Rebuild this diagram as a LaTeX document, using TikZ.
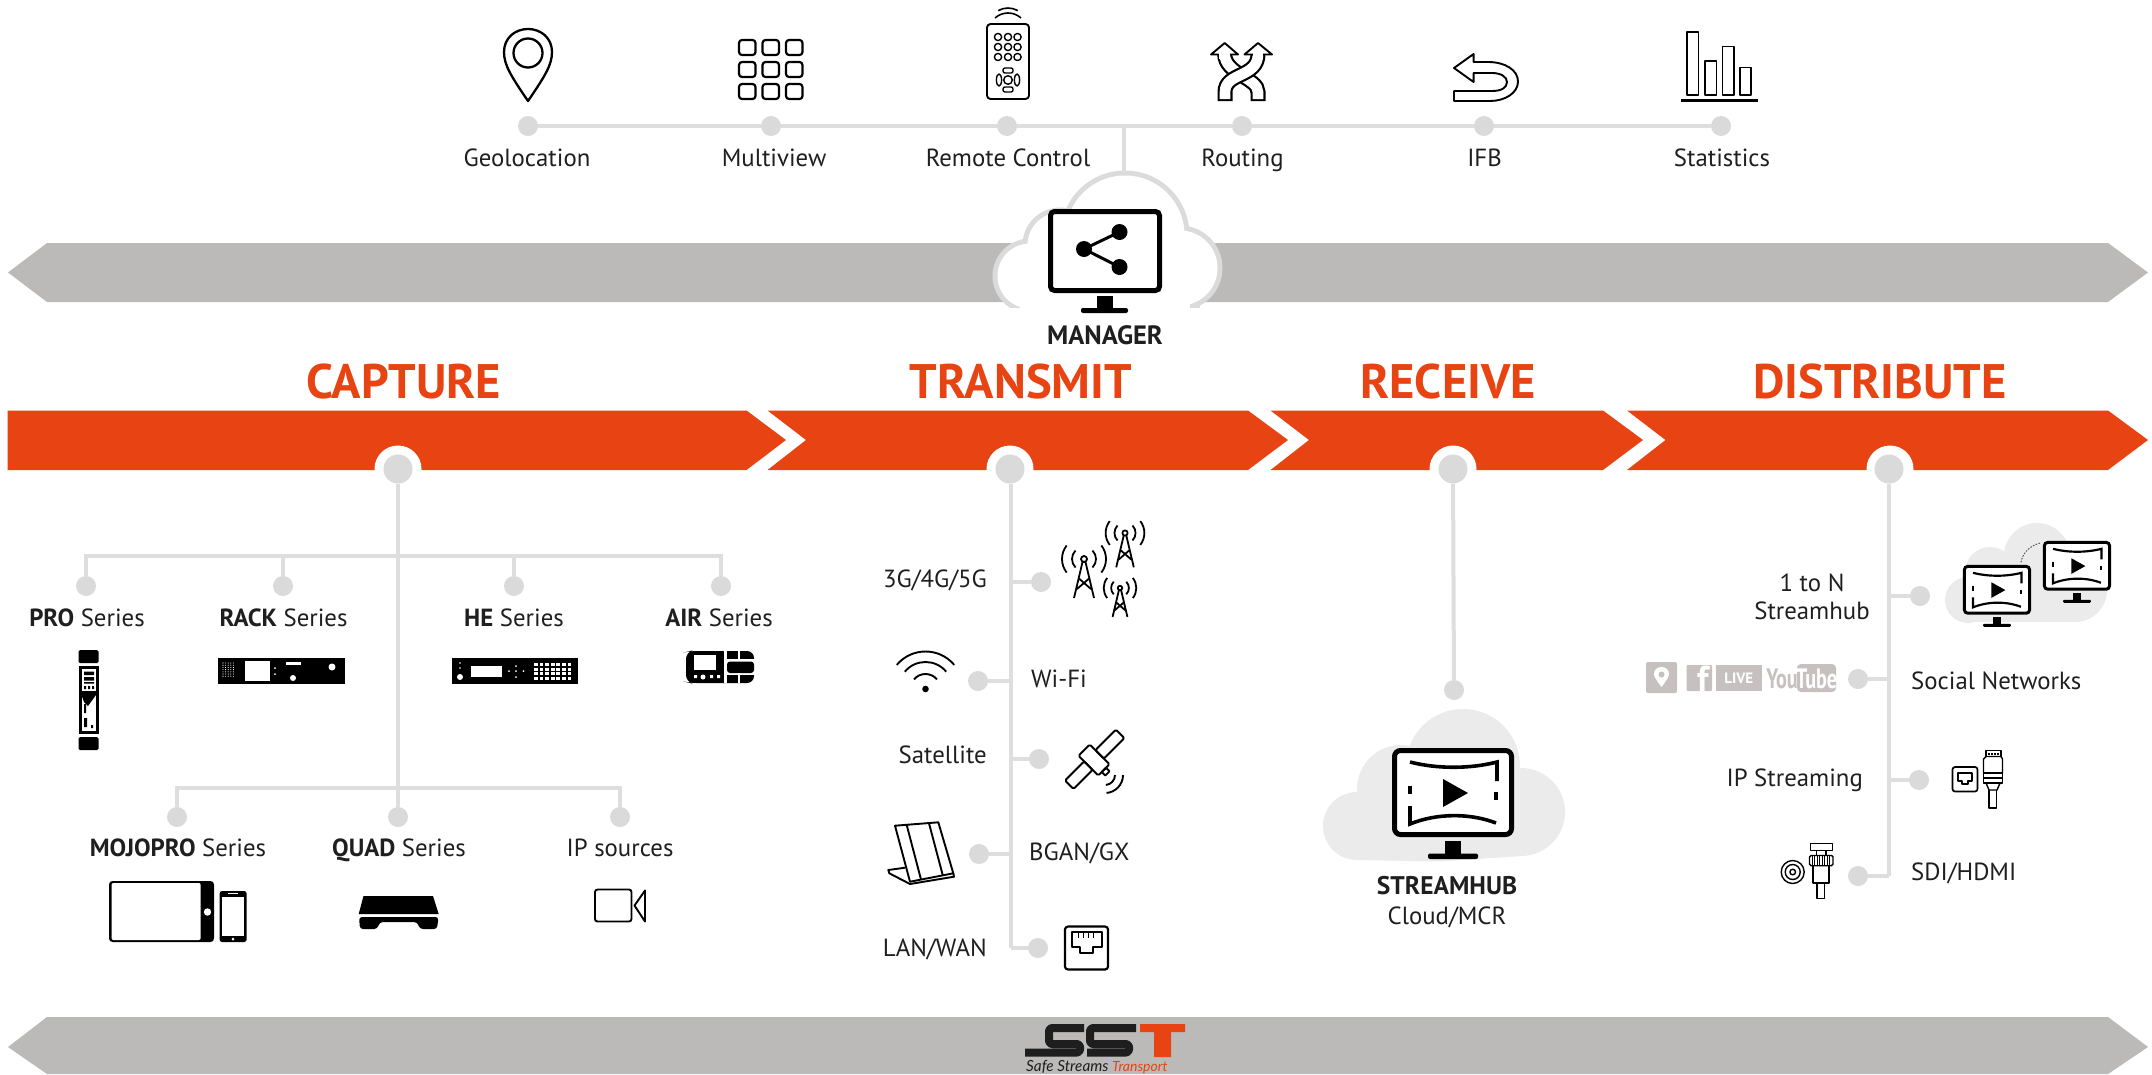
\documentclass[tikz,border=0pt]{standalone}
\usepackage{fontspec}
\setmainfont{PT Sans}
\newfontfamily\logofont{Lato}
\usetikzlibrary{calc}
\definecolor{barorange}{HTML}{E84312}
\definecolor{bargrey}{HTML}{BBBAB8}
\definecolor{linegrey}{HTML}{DEDEDE}
\definecolor{dotgrey}{HTML}{DADADA}
\definecolor{cloudfill}{HTML}{EBEBEB}
\definecolor{cloudline}{HTML}{DBDBDB}
\definecolor{socialgrey}{HTML}{C6C1C0}
\definecolor{logoblack}{HTML}{1E1E1E}
\tikzset{
  lbl/.style={font=\fontsize{24.8}{28}\selectfont,text=black!88,inner sep=0pt,anchor=base},
  lbll/.style={lbl,anchor=base west},
  lblr/.style={lbl,anchor=base east},
  boldlbl/.style={font=\fontsize{25.5}{28}\selectfont\bfseries,text=black!88,inner sep=0pt,anchor=base},
  titlelbl/.style={font=\fontsize{48.5}{48}\selectfont\bfseries,text=barorange,inner sep=0pt,anchor=base},
  dotn/.style={circle,fill=dotgrey,draw=none,minimum size=20pt,inner sep=0pt},
  hubdot/.style={circle,fill=dotgrey,draw=none,minimum size=29pt,inner sep=0pt},
  conn/.style={draw=linegrey,line width=4pt},
  branch/.style={draw=linegrey,line width=3.4pt},
  ico/.style={draw=black,line width=1.9pt,line join=round},
  icot/.style={draw=black,line width=1.4pt,line join=round},
  icob/.style={draw=black,line width=1.8pt,line join=round},
}
% arc in y-down coordinates: cx cy r a1 a2, angles counter-clockwise on the page
\newcommand{\arcl}[6][]{\draw[#1]
 ({#2+#4*cos(#5)},{#3-#4*sin(#5)})
 .. controls ({#2+#4*cos(#5)-4/3*tan((#6-#5)/4)*#4*sin(#5)},{#3-#4*sin(#5)-4/3*tan((#6-#5)/4)*#4*cos(#5)})
 and ({#2+#4*cos(#6)+4/3*tan((#6-#5)/4)*#4*sin(#6)},{#3-#4*sin(#6)+4/3*tan((#6-#5)/4)*#4*cos(#6)})
 .. ({#2+#4*cos(#6)},{#3-#4*sin(#6)});}
% monitor with play symbol: x y scale linewidth
\newcommand{\playmon}[4]{%
 \begin{scope}[shift={(#1,#2)},x=#3pt,y=-#3pt]
  \draw[draw=black,fill=white,line width=#4pt,rounded corners=#3*6pt] (2.5,2.5) rectangle (119.5,86.5);
  \draw[black,line width=#4*.72pt] (18,14) .. controls (45,21) and (78,21) .. (105,14) -- (105,33);
  \draw[black,line width=#4*.9pt] (104,44) -- (104,52);
  \draw[black,line width=#4*.9pt] (18,38) -- (18,46);
  \draw[black,line width=#4*.72pt] (18,58) -- (18,76) .. controls (45,65) and (78,65) .. (104,75);
  \fill[black] (51,31) -- (76,45) -- (51,59) -- cycle;
  \fill[black] (53,93) rectangle (69,107);
  \fill[black,rounded corners=#3*2pt] (36,105.5) rectangle (86,111);
 \end{scope}}
% cell tower: x y scale
\newcommand{\tower}[3]{%
 \begin{scope}[shift={(#1,#2)},x=#3pt,y=-#3pt]
  \draw[icob] (0,0) circle (3);
  \draw[icob] (-1.5,3) -- (-10,39) (1.5,3) -- (10,39) (-4.5,20) -- (7,30) (4.5,20) -- (-7,30);
  \arcl[icob]{0}{0}{12}{-45}{45}
  \arcl[icob]{0}{0}{12}{135}{225}
  \arcl[icob]{0}{0}{22}{-38}{38}
  \arcl[icob]{0}{0}{22}{142}{218}
 \end{scope}}
\begin{document}
\begin{tikzpicture}[x=1pt,y=-1pt]
\useasboundingbox (0,0) rectangle (2152,1074);
\fill[white] (0,0) rectangle (2152,1074);

%%% grey bars
\fill[bargrey] (8,272.5) -- (47,243) -- (2108,243) -- (2148,272.5) -- (2108,302) -- (47,302) -- cycle;
\fill[bargrey] (8,1047) -- (47,1017) -- (2108,1017) -- (2148,1047) -- (2108,1074) -- (47,1074) -- cycle;

%%% orange bars
\fill[barorange] (7.5,410.5) -- (746.5,410.5) -- (786,440) -- (746.5,470) -- (7.5,470) -- cycle;
\fill[barorange] (767.5,410.5) -- (1248,410.5) -- (1288,440) -- (1248,470) -- (767.5,470) -- (806,440) -- cycle;
\fill[barorange] (1270.5,410.5) -- (1603,410.5) -- (1643,440) -- (1603,470) -- (1270.5,470) -- (1309,440) -- cycle;
\fill[barorange] (1627,410.5) -- (2108,410.5) -- (2148,440) -- (2108,470) -- (1627,470) -- (1665.5,440) -- cycle;

%%% titles
\node[titlelbl] (tcapture) at (404,398) {CAPTURE};
\node[titlelbl] (ttransmit) at (1021,398) {TRANSMIT};
\node[titlelbl] (treceive) at (1448,398) {RECEIVE};
\node[titlelbl] (tdistribute) at (1880,398) {DISTRIBUTE};

%%% white collars of the hub dots
\foreach \hx in {398,1010,1453,1890} \fill[white] (\hx,469) circle (23.5);

%%% hub dots
\node[hubdot] (hubcap) at (398,469) {};
\node[hubdot] (hubtra) at (1010,469) {};
\node[hubdot] (hubrec) at (1453,469) {};
\node[hubdot] (hubdis) at (1889,469) {};

%%% manager cloud
\foreach \cx/\cy/\cr in {1125/235/62,1060/245/35,1030/276/35,1180/268/40}
  \fill[cloudline] (\cx,\cy) circle (\cr+2.5);
\fill[cloudline] (1015,285) rectangle (1200,310);
\foreach \cx/\cy/\cr in {1125/235/62,1060/245/35,1030/276/35,1180/268/40}
  \fill[white] (\cx,\cy) circle (\cr-2.5);
\fill[white] (1020,270) rectangle (1190,312);
\fill[white] (980,308) rectangle (1240,320);
\node[inner sep=0pt] (managercloud) at (1124,173) {};

%%% manager monitor
\draw[draw=black,fill=white,line width=5pt,rounded corners=4pt] (1050.5,211.5) rectangle (1159.5,290.5);
\fill[black] (1097,296) rectangle (1113,309);
\fill[black,rounded corners=2pt] (1081,308) rectangle (1128,313);
\coordinate (sa) at (1119.5,232); \coordinate (sb) at (1084,249); \coordinate (sc) at (1119.5,267);
\draw[black,line width=3pt] (sa) -- (sb) -- (sc);
\foreach \p in {sa,sb,sc} \fill[black] (\p) circle (8);
\node[boldlbl,font=\fontsize{26.5}{28}\selectfont\bfseries] (manager) at (1105,344) {MANAGER};

%%% top row
\node[dotn] (g) at (528,126) {};
\node[dotn] (m) at (771,126) {};
\node[dotn] (r) at (1007,126) {};
\node[dotn] (ro) at (1242,126) {};
\node[dotn] (i) at (1484,126) {};
\node[dotn] (s) at (1721,126) {};
\draw[conn] (g) -- (m);
\draw[conn] (m) -- (r);
\draw[conn] (r) -- (ro);
\draw[conn] (ro) -- (i);
\draw[conn] (i) -- (s);
\coordinate (topj) at (1124,126);
\draw[conn] (topj) -- (managercloud);
\node[lbl] (lg) at (527,166) {Geolocation};
\node[lbl] (lm) at (774,166) {Multiview};
\node[lbl] (lr) at (1008,166) {Remote Control};
\node[lbl] (lro) at (1242.5,166) {Routing};
\node[lbl] (li) at (1484.5,166) {IFB};
\node[lbl] (ls) at (1722,166) {Statistics};

% pin
\draw[ico,line width=2.3pt] (528,101) .. controls (511,76) and (504,65) .. (504,52) .. controls (504,38) and (515,29) .. (528,29) .. controls (541,29) and (552,38) .. (552,52) .. controls (552,65) and (545,76) .. (528,101) -- cycle;
\draw[ico,line width=2.3pt] (528,53) circle (14.5);
% multiview
\foreach \gx in {739,762.5,786} \foreach \gy in {40,62,84}
  \draw[ico,line width=2.2pt,rounded corners=3pt] (\gx,\gy) rectangle +(16.5,15);
% remote
\draw[ico,rounded corners=3.5pt] (987,24) rectangle (1029,99);
\arcl[ico,line width=1.6pt]{1008}{27.5}{19.5}{60}{120}
\arcl[ico,line width=1.6pt]{1008}{32.4}{19.4}{48}{132}
\foreach \bx in {998,1008,1017.5} \foreach \by in {37,47,57} \draw[icot] (\bx,\by) circle (3.6);
\draw[icot] (1008,80) circle (4.3);
\draw[icot,rounded corners=2pt] (1003,68) rectangle (1013,73);
\draw[icot,rounded corners=2pt] (1003,87) rectangle (1013,92);
\draw[icot] (999,80) ellipse (2.6 and 6);
\draw[icot] (1017,80) ellipse (2.6 and 6);
% routing
\draw[black,line width=15pt] (1258,101) -- (1258,92) .. controls (1258,78) and (1224.7,74) .. (1224.7,54);
\draw[white,line width=10.6pt] (1258,99) -- (1258,92) .. controls (1258,78) and (1224.7,74) .. (1224.7,54);
\draw[black,line width=15pt] (1225,101) -- (1225,92) .. controls (1225,72) and (1258,78) .. (1258,54);
\draw[white,line width=10.6pt] (1225,99) -- (1225,92) .. controls (1225,72) and (1258,78) .. (1258,54);
\draw[ico,fill=white] (1224.7,43) -- (1238,54.5) -- (1211,54.5) -- cycle;
\draw[ico,fill=white] (1258,43) -- (1272,54.5) -- (1244.5,54.5) -- cycle;
\draw[white,line width=10.6pt] (1224.7,59) -- (1224.7,52);
\draw[white,line width=10.6pt] (1258,59) -- (1258,52);
% IFB
\draw[ico,fill=white] (1454,68) -- (1473.6,54) -- (1473.6,62) -- (1488,62) .. controls (1505,62) and (1518,70) .. (1518,81.5) .. controls (1518,93) and (1505,101) .. (1490,101) -- (1454,101) -- (1454,91) -- (1492,91) .. controls (1501,91) and (1507,88) .. (1507,82) .. controls (1507,77) and (1501,73) .. (1492,73) -- (1473.6,73) -- (1473.6,82) -- cycle;
% statistics
\draw[ico] (1687,32) rectangle (1698.5,95);
\draw[ico] (1705,61) rectangle (1716.5,95);
\draw[ico] (1722.5,46.5) rectangle (1734,95);
\draw[ico] (1740,67.5) rectangle (1751,95);
\draw[black,line width=2.2pt] (1681,100.5) -- (1758,100.5);

%%% capture tree
\coordinate (cj1) at (398,556); \coordinate (cj2) at (398,788);
\node[dotn] (c1) at (86,586) {};
\node[dotn] (c2) at (283,586) {};
\node[dotn] (c3) at (514,586) {};
\node[dotn] (c4) at (721,586) {};
\node[dotn] (c5) at (177,817) {};
\node[dotn] (c6) at (398,817) {};
\node[dotn] (c7) at (620,817) {};
\draw[conn] (hubcap) -- (c6);
\draw[branch] (c1) |- (cj1);
\draw[branch] (c2) |- (cj1);
\draw[branch] (c3) |- (cj1);
\draw[branch] (c4) |- (cj1);
\draw[conn] (c5) |- (cj2);
\draw[conn] (c7) |- (cj2);
\node[lbl] (l1) at (87,626) {\textbf{PRO} Series};
\node[lbl] (l2) at (283.5,626) {\textbf{RACK} Series};
\node[lbl] (l3) at (514,626) {\textbf{HE} Series};
\node[lbl] (l4) at (719,626) {\textbf{AIR} Series};
\node[lbl] (l5) at (178,856) {\textbf{MOJOPRO} Series};
\node[lbl] (l6) at (399,856) {\textbf{QUAD} Series};
\node[lbl] (l7) at (620,856) {IP sources};

% PRO
\fill[black,rounded corners=1.5pt] (78.5,650) rectangle (98.5,663);
\fill[black,rounded corners=1.5pt] (78.5,737) rectangle (98.5,750);
\fill[black] (78.5,666) rectangle (98.5,734);
\fill[white] (81.5,669) rectangle (96,691);
\fill[white] (81.5,695) rectangle (96,731);
\fill[black] (84,671.5) rectangle (94,675) (84,677) rectangle (94,680.5) (84,682) rectangle (94,683.5);
\fill[black] (84,686) rectangle (86,689) (88,686) rectangle (90,689) (92,686) rectangle (94,689);
\fill[black] (81.5,695) -- (96,695) -- (88,706) -- (84,702) -- cycle;
\fill[black] (84,704) rectangle (86,713) (84,718) rectangle (87,727) (91,725) rectangle (93,728);
% RACK
\fill[black] (218,658) rectangle (345,684);
\fill[white] (245,661) rectangle (269.5,681);
\foreach \ax in {223,225.6,...,236} \foreach \ay in {663,665.2,...,678} \fill[white] (\ax,\ay) circle (.55);
\fill[white] (286,662) rectangle (300.5,665);
\fill[white] (332,667) circle (3.5);
\fill[white] (293,678) circle (3);
\fill[white] (275,668) circle (1) (275,674) circle (1);
% HE
\fill[black] (452,658) rectangle (578,684);
\fill[white] (471,666) rectangle (502,677);
\fill[white] (460,663) circle (.9) (460,668) circle (.9) (460,677) circle (3);
\fill[white] (516,666) circle (1) (516,671) circle (1) (516,677) circle (1) (509,671) circle (1) (523.5,671) circle (1);
\foreach \ax in {534,539.6,...,570} \foreach \ay in {663,667.6,...,679} \fill[white] (\ax,\ay) rectangle +(3.8,3);
% AIR
\fill[black,rounded corners=7pt] (686,652) -- (690,651) -- (754,651) -- (754,683) -- (690,683) -- (686,682) -- cycle;
\fill[white] (694,655) rectangle (716,670);
\fill[white] (694,675) rectangle (697,678) (710,675) rectangle (713,678) (717,675) rectangle (720,678);
\fill[white] (703,677) circle (2.5);
\fill[white] (724,651) rectangle (727,683);
\fill[white] (724,659) rectangle (755,675);
\fill[black,rounded corners=3pt] (727,661.5) rectangle (754,673);
\fill[white] (738,651) rectangle (740,661);
\fill[white] (738,673) rectangle (740,683);
% MOJOPRO tablet and phone
\fill[black,rounded corners=3.5pt] (109,881) rectangle (214,942);
\fill[white,rounded corners=2pt] (111.5,883) rectangle (200.7,940);
\fill[white] (207.5,912) circle (3.7);
\fill[black,rounded corners=2.5pt] (219.6,891) rectangle (246.7,942);
\fill[white] (222,897) rectangle (244.3,936);
\fill[white] (228,893) rectangle (238,894);
\fill[white] (233,939) circle (1.5);
% QUAD
\fill[black] (363.5,896) -- (433,896) -- (438.7,914) -- (358.7,914) -- cycle;
\fill[black,rounded corners=3pt] (359,917) -- (438.5,917) -- (437,929) -- (420,929) -- (417,922) -- (380,922) -- (377,929) -- (360,929) -- cycle;
% camera
\draw[ico,rounded corners=2.5pt] (595,889.5) rectangle (631.5,921.5);
\draw[ico] (634.5,905.5) -- (645,890.5) -- (645,921.5) -- cycle;

%%% transmit
\coordinate (tj1) at (1011,582); \coordinate (tj2) at (1011,681);
\coordinate (tj3) at (1011,759); \coordinate (tj4) at (1011,854); \coordinate (tj5) at (1011,948);
\node[dotn] (t1) at (1041,582) {};
\node[dotn] (t2) at (978,681) {};
\node[dotn] (t3) at (1039,759) {};
\node[dotn] (t4) at (979,854) {};
\node[dotn] (t5) at (1038,948) {};
\draw[conn] (hubtra.south) ++(1,0) -- (tj5);
\draw[branch] (tj1) -- (t1);
\draw[branch] (tj2) -- (t2);
\draw[branch] (tj3) -- (t3);
\draw[branch] (tj4) -- (t4);
\draw[branch] (tj5) -- (t5);
\node[lblr] (t1l) at (987,587) {3G/4G/5G};
\node[lbll] (t2l) at (1031,687) {Wi-Fi};
\node[lblr] (t3l) at (987,763) {Satellite};
\node[lbll] (t4l) at (1029,860) {BGAN/GX};
\node[lblr] (t5l) at (987,956) {LAN/WAN};
% towers
\tower{1084}{559}{1}
\tower{1125}{533}{.88}
\tower{1120}{588}{.74}
% wifi
\fill[black] (925.5,689) circle (3.3);
\arcl[ico,line width=1.9pt]{925.5}{689}{15}{40}{140}
\arcl[ico,line width=1.9pt]{925.5}{689}{27}{40}{140}
\arcl[ico,line width=1.9pt]{925.5}{689}{37.5}{40}{140}
% satellite
\begin{scope}[shift={(1094,760)},rotate=45]
 \draw[ico,rounded corners=1.5pt] (-8,-14) rectangle (8,14);
 \draw[ico,rounded corners=1.5pt] (8,-6) rectangle (37,6);
 \draw[ico,rounded corners=1.5pt] (-35,-6) rectangle (-8,6);
 \draw[ico] (-3,14) rectangle (3,19);
\end{scope}
\arcl[ico]{1105}{775}{10}{-85}{0}
\arcl[ico]{1105}{775}{18}{-85}{0}
% bgan
\draw[ico] (895,825.7) -- (938.3,822.3) -- (953.3,873.3) -- (910,881.7) -- cycle;
\draw[ico] (906.7,825) -- (921,879.5);
\draw[ico] (929,823.3) -- (942.7,875);
\draw[ico] (905,867.7) -- (888.3,870) -- (889.3,873.3) -- (910,884) -- (954,876.7) -- (953.3,873.3);
% lan
\draw[ico,line width=2.2pt,rounded corners=3pt] (1065,926.5) rectangle (1108,969.5);
\draw[ico] (1071.7,931.7) -- (1101.7,931.7) -- (1101.7,946.7) -- (1093.3,946.7) -- (1093.3,953.3) -- (1080,953.3) -- (1080,946.7) -- (1071.7,946.7) -- cycle;
\draw[icot] (1078.3,932) -- (1078.3,938) (1083.3,932) -- (1083.3,938) (1088.3,932) -- (1088.3,938) (1093.3,932) -- (1093.3,938);

%%% receive
\node[dotn] (rd) at (1454,690) {};
\draw[conn] (hubrec) -- (rd);
\foreach \cx/\cy/\cr in {1463/766/57,1401/789/44,1357/826/34,1521/812/44}
  \fill[cloudfill] (\cx,\cy) circle (\cr);
\fill[cloudfill] (1357,800) rectangle (1521,856);
\fill[cloudfill] (1357,856) -- (1521,856) -- (1440,861.5) -- (1357,860) -- cycle;
\playmon{1392}{748}{1}{5}
\node[boldlbl] (lsh) at (1447,894) {STREAMHUB};
\node[lbl] (lcm) at (1447,924) {Cloud/MCR};

%%% distribute
\coordinate (dj1) at (1889,596); \coordinate (dj2) at (1889,679);
\coordinate (dj3) at (1889,780); \coordinate (dj4) at (1889,876);
\node[dotn] (d1) at (1920,596) {};
\node[dotn] (d2) at (1858,679) {};
\node[dotn] (d3) at (1919,780) {};
\node[dotn] (d4) at (1858,876) {};
\draw[conn] (hubdis) -- (dj4);
\draw[branch] (dj1) -- (d1);
\draw[branch] (dj2) -- (d2);
\draw[branch] (dj3) -- (d3);
\draw[branch] (dj4) -- (d4);
\node[lbl] (d1a) at (1812,591) {1 to N};
\node[lbl] (d1b) at (1812,619) {Streamhub};
\node[lbll] (d2l) at (1911,689) {Social Networks};
\node[lblr] (d3l) at (1863,786) {IP Streaming};
\node[lbll] (d4l) at (1911,880) {SDI/HDMI};
% small cloud
\foreach \cx/\cy/\cr in {2037/556/33,1990/572/25,1968/600/23,2075/590/32}
  \fill[cloudfill] (\cx,\cy) circle (\cr);
\fill[cloudfill] (1968,585) rectangle (2075,622);
\playmon{1963}{565}{.557}{3}
\playmon{2043}{541}{.557}{3}
\draw[black!70,line width=1pt,dotted,line cap=round] (2021,562) .. controls (2023,552) and (2030,546) .. (2040,543);
% social
\fill[socialgrey,rounded corners=2pt] (1646,662) rectangle (1677,693);
\fill[white] (1661.5,687) .. controls (1657,681) and (1654,677) .. (1654,674) .. controls (1654,670) and (1657,667) .. (1661.5,667) .. controls (1666,667) and (1669,670) .. (1669,674) .. controls (1669,677) and (1666,681) .. (1661.5,687) -- cycle;
\fill[socialgrey] (1661.5,674.5) circle (3);
\fill[socialgrey,rounded corners=1pt] (1686.7,665) rectangle (1712,691);
\node[font=\fontsize{36}{36}\selectfont\bfseries,text=white,inner sep=0pt,anchor=base] (fb) at (1703,691) {f};
\fill[socialgrey] (1715.7,665) rectangle (1761.7,691);
\node[font=\fontsize{15}{15}\selectfont\bfseries,text=white,inner sep=0pt] (liv) at (1738.7,678) {LIVE};
\node[font=\fontsize{28}{28}\selectfont\bfseries,text=socialgrey,inner sep=0pt,anchor=base] (you) at (1782,688) {\scalebox{.72}[1]{You}};
\fill[socialgrey,rounded corners=4pt] (1797,664) rectangle (1836,692);
\node[font=\fontsize{28}{28}\selectfont\bfseries,text=white,inner sep=0pt,anchor=base] (tub) at (1816.5,688) {\scalebox{.72}[1]{Tube}};
% ip streaming icon
\draw[icot,line width=1.7pt,rounded corners=2.5pt] (1952.5,767) rectangle (1977.5,791.5);
\draw[icot] (1958,773) -- (1972,773) -- (1972,781) -- (1968,781) -- (1968,784) -- (1962,784) -- (1962,781) -- (1958,781) -- cycle;
\draw[icot] (1986,757) -- (1986,750.5) -- (2001,750.5) -- (2001,757);
\draw[icot] (1983.5,759) -- (1986,756.5) -- (2001,756.5) -- (2002.5,759) -- (2002.5,773) -- (1983.5,773) -- cycle;
\draw[icot] (1983.5,773) rectangle (2002.5,783);
\draw[icot] (1983.5,778) -- (2002.5,778);
\draw[icot] (1986,783) -- (1989,790) -- (1997,790) -- (2000,783);
\draw[icot] (1989,790) -- (1989,808) -- (1996.5,808) -- (1996.5,790);
\draw[icot] (1989,753) -- (1989,755) (1992,753) -- (1992,755) (1995,753) -- (1995,755) (1998,753) -- (1998,755);
% bnc icon
\draw[icot] (1792.7,872) circle (11.5);
\draw[icot] (1792.7,872) circle (7.5);
\draw[icot] (1792.7,872) circle (2.8);
\draw[icot] (1810.5,843.5) rectangle (1832.5,850.5);
\draw[icot] (1816.7,850.5) rectangle (1826,855.5);
\draw[icot,rounded corners=1.5pt] (1809.5,855.5) rectangle (1833,865.7);
\foreach \kx in {1812,1814.5,...,1831} \draw[black,line width=.7pt] (\kx,856) -- (\kx,865);
\draw[icot] (1813,865.7) rectangle (1829,883);
\draw[icot] (1817,883) -- (1817,898.5) -- (1824.7,898.5) -- (1824.7,883);

%%% SST logo
\begin{scope}[line width=8pt,draw=logoblack,line join=round]
 \draw[rounded corners=3pt] (1084,1028) -- (1049,1028) -- (1049,1044) -- (1080,1044) -- (1080,1052.5) -- (1025,1052.5);
 \draw[rounded corners=3pt] (1136,1028) -- (1090,1028) -- (1090,1044) -- (1129,1044) -- (1129,1052.5) -- (1087,1052.5);
\end{scope}
\fill[barorange] (1140,1024) rectangle (1185,1032) (1154,1032) rectangle (1171,1057);
\node[font=\logofont\itshape\fontsize{15.3}{16}\selectfont,text=logoblack,inner sep=0pt,anchor=base west] (sst1) at (1026,1071) {Safe Streams};
\node[font=\logofont\itshape\fontsize{14}{16}\selectfont,text=barorange,inner sep=0pt,anchor=base west] (sst2) at (1112,1071) {Transport};
\end{tikzpicture}
\end{document}
